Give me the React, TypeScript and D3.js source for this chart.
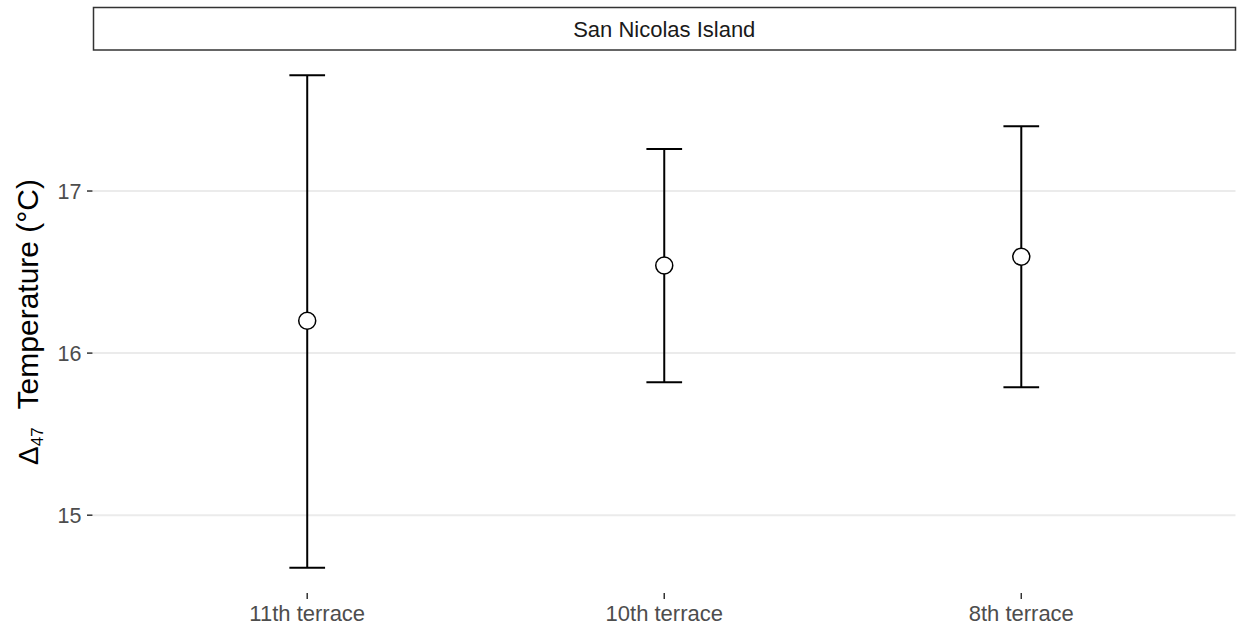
import React from 'react';
import * as d3 from 'd3';

const terraces = ['11th terrace', '10th terrace', '8th terrace'];
const means = [16.2, 16.54, 16.595];
const lower = [14.675, 15.82, 15.79];
const upper = [17.715, 17.26, 17.4];
const yTicks = [15, 16, 17];
const stripLabel = 'San Nicolas Island';

const W = 1238;
const H = 628;
const margin = { top: 50.5, right: 2.5, bottom: 35.5, left: 93 };

export default function App() {
  const x = d3.scalePoint<string>()
    .domain(terraces)
    .range([margin.left, W - margin.right])
    .padding(0.6);

  const lo = d3.min(lower) as number;
  const hi = d3.max(upper) as number;
  const pad = (hi - lo) * 0.05;
  const y = d3.scaleLinear()
    .domain([lo - pad, hi + pad])
    .range([H - margin.bottom, margin.top]);

  const capHalf = x.step() * 0.05;
  const font = '"Liberation Sans", Arial, sans-serif';

  const rows = terraces.map((t, i) => ({
    t,
    cx: x(t) as number,
    mean: y(means[i]),
    lo: y(lower[i]),
    hi: y(upper[i]),
  }));

  return (
    <svg width={W} height={H} style={{ position: 'absolute', left: 0, top: 0 }} fontFamily={font}>
      <rect width={W} height={H} fill="white" />
      {/* strip */}
      <rect x={margin.left + 0.5} y={7.5} width={W - margin.right - margin.left - 0.5} height={42.5}
        fill="white" stroke="#333333" strokeWidth={1.5} />
      <text x={(margin.left + W - margin.right) / 2} y={29} dy="0.35em" textAnchor="middle"
        fontSize={22} fill="#1A1A1A">{stripLabel}</text>

      {/* grid */}
      {yTicks.map(v => (
        <line key={v} x1={margin.left} x2={W - margin.right} y1={y(v)} y2={y(v)}
          stroke="#EBEBEB" strokeWidth={2} />
      ))}

      {/* y axis ticks */}
      {yTicks.map(v => (
        <g key={v}>
          <line x1={margin.left - 6} x2={margin.left - 0.5} y1={y(v)} y2={y(v)} stroke="#333333" strokeWidth={1.5} />
          <text x={margin.left - 11.5} y={y(v)} dy="0.35em" textAnchor="end" fontSize={21.5} fill="#4D4D4D">{v}</text>
        </g>
      ))}

      {/* x axis ticks */}
      {terraces.map(t => (
        <g key={t}>
          <line x1={x(t)} x2={x(t)} y1={H - margin.bottom + 0.5} y2={H - margin.bottom + 6.5} stroke="#333333" strokeWidth={1.5} />
          <text x={x(t)} y={620.5} textAnchor="middle" fontSize={22} fill="#4D4D4D">{t}</text>
        </g>
      ))}

      {/* y title */}
      <text transform="translate(38,465) rotate(-90)" textAnchor="start" fontSize={30} fill="#000000">
        <tspan fontSize={28}>Δ</tspan>
        <tspan fontSize={17} dy={5}>47</tspan>
        <tspan dy={-5} dx={18}>Temperature (°C)</tspan>
      </text>

      {/* error bars */}
      {rows.map(r => (
        <g key={r.t} stroke="black" strokeWidth={2}>
          <line x1={r.cx} x2={r.cx} y1={r.lo} y2={r.hi} />
          <line x1={r.cx - capHalf} x2={r.cx + capHalf} y1={r.hi} y2={r.hi} />
          <line x1={r.cx - capHalf} x2={r.cx + capHalf} y1={r.lo} y2={r.lo} />
          <circle cx={r.cx} cy={r.mean} r={8.5} fill="white" strokeWidth={1.5} />
        </g>
      ))}
    </svg>
  );
}
